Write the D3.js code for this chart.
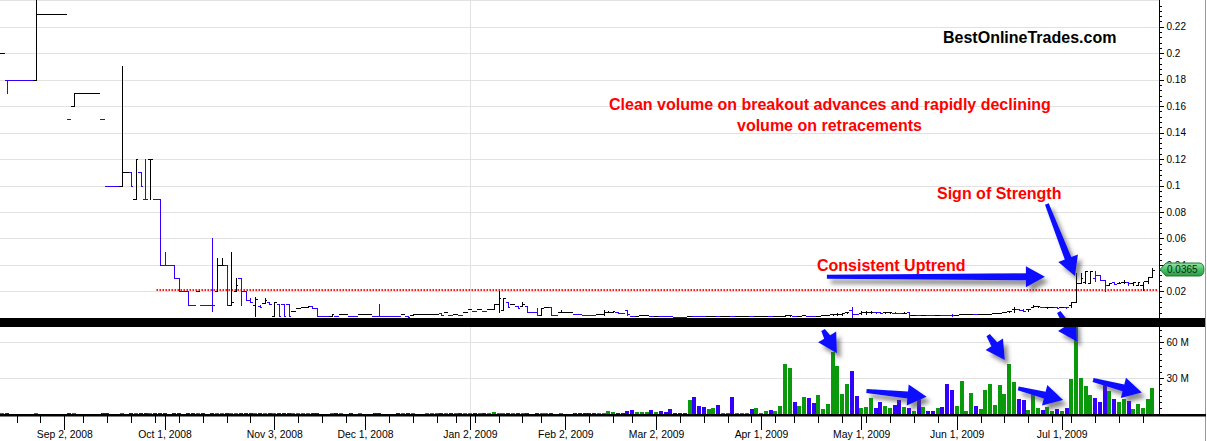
<!DOCTYPE html>
<html><head><meta charset="utf-8">
<script src="https://cdn.jsdelivr.net/npm/d3@7"></script>
<style>html,body{margin:0;padding:0;background:#fff;overflow:hidden}svg{display:block}</style>
</head><body><svg id="c" width="1207" height="441"></svg>
<script>
// ---------------- DATA ----------------
const firstDay = "2008-08-13", lastDay = "2009-07-29";
const holidays = ["2008-09-01","2008-11-27","2008-12-25","2009-01-01","2009-01-19","2009-02-16","2009-04-10","2009-05-25","2009-07-03"];

const opens = [
.20,.18,.18,.18,.18,.18,.18,.18,.23,.23,
.23,.23,.23,.23,.15,.16,.17,.17,.17,.17,
.17,.15,.10,.10,.10,.10,.11,.11,.09,.11,
.09,.12,.09,.09,.04,.04,.04,.03,.02,.02,
.01,.02,.01,.01,.01,.02,.04,.04,.01,.02,
.03,.02,.0135,.01,.009,.011,.012,.0015,.0104,.0104,
.0104,.005,.0072,.008,.0085,.009,.0075,.0015,.0015,.0015,
.0015,.003,.003,.0015,.0015,.003,.003,.003,.0015,.0015,
.0015,.0015,.0015,.0015,.0026,.0015,.002,.003,.003,.003,
.003,.003,.004,.0042,.002,.003,.002,.0045,.0064,.0054,
.0064,.0049,.0064,.0064,.0104,.006,.0117,.0104,.009,.009,
.009,.0042,.0042,.002,.008,.008,.002,.0042,.0042,.0042,
.0031,.0031,.002,.002,.002,.0031,.0031,.0042,.0045,.0042,
.0038,.0059,.0014,.0016,.0018,.002,.0014,.0016,.0014,.0012,
.001,.0009,.0008,.0007,.0016,.0012,.0011,.001,.0012,.0014,
.001,.0012,.0013,.001,.0011,.0012,.0013,.001,.0012,.0013,
.0014,.0012,.0014,.0016,.0016,.0018,.0014,.0016,.0018,.0014,
.0012,.0016,.0018,.002,.003,.003,.0032,.0042,.0059,.003,
.0035,.0042,.0045,.0044,.0042,.0042,.0042,.004,.0036,.004,
.0042,.0022,.002,.0022,.002,.0019,.0024,.0022,.002,.0018,
.0022,.0025,.0026,.0028,.0026,.0028,.003,.0032,.0033,.0034,
.0046,.0048,.0064,.0064,.006,.0064,.0085,.0088,.008,.0079,
.008,.0078,.008,.008,.0097,.012,.026,.027,.026,.030,
.0324,.0286,.025,.027,.026,.027,.027,.026,.0248,.025,
.0275,.0306];

const highs = [
.20,.18,.18,.18,.18,.18,.18,.25,.23,.23,
.23,.23,.23,.23,.15,.17,.17,.17,.17,.17,
.17,.15,.10,.10,.10,.19,.11,.11,.12,.11,
.12,.12,.09,.09,.05,.04,.04,.03,.02,.02,
.01,.02,.01,.01,.06,.045,.045,.04,.05,.03,
.03,.02,.015,.016,.0095,.0147,.012,.012,.0104,.0104,
.0104,.005,.0072,.008,.009,.009,.0075,.0015,.0015,.003,
.0015,.003,.003,.0015,.0015,.003,.003,.003,.0015,.0104,
.0015,.0015,.0015,.0015,.0026,.0015,.003,.003,.003,.003,
.003,.003,.004,.0042,.002,.003,.002,.0045,.0064,.0054,
.0064,.0049,.0064,.0104,.0205,.0147,.0117,.0104,.009,.0117,
.009,.0042,.0072,.0072,.008,.008,.002,.0059,.0042,.0042,
.0031,.0031,.002,.002,.002,.0031,.0059,.0048,.005,.0042,
.0038,.0059,.0014,.0016,.0018,.002,.0014,.0016,.0014,.0012,
.001,.0009,.0008,.0007,.0016,.0012,.0011,.001,.0012,.0014,
.001,.0012,.0013,.001,.0011,.0012,.0013,.001,.0012,.0013,
.0014,.0012,.0014,.0016,.002,.0022,.0014,.0016,.0018,.0014,
.0012,.0016,.0018,.002,.003,.004,.004,.0042,.008,.003,
.0048,.005,.005,.0046,.0042,.0045,.0045,.0044,.0038,.0042,
.0042,.0022,.002,.0022,.002,.0019,.0024,.0022,.002,.003,
.0022,.0025,.0026,.0028,.0026,.0028,.003,.0032,.0033,.0034,
.0046,.0055,.0084,.0064,.0064,.007,.0097,.0092,.008,.0082,
.0082,.008,.008,.008,.0122,.0336,.0336,.0356,.0356,.0356,
.0324,.0286,.026,.027,.027,.0286,.027,.027,.027,.027,
.0306,.0374];

const lows = [
.20,.17,.18,.18,.18,.18,.18,.18,.23,.23,
.23,.23,.23,.23,.15,.16,.17,.17,.17,.17,
.17,.15,.10,.10,.10,.10,.11,.10,.09,.10,
.09,.09,.09,.04,.04,.04,.03,.02,.02,.01,
.01,.02,.01,.01,.005,.02,.04,.01,.01,.02,
.01,.0135,.012,.0015,.008,.011,.0104,.0015,.0015,.0015,
.0015,.005,.0072,.008,.0085,.0075,.0015,.0015,.0015,.0015,
.0015,.003,.003,.0015,.0015,.003,.003,.003,.0015,.0015,
.0015,.0015,.0015,.0015,.0026,.0005,.002,.003,.003,.003,
.003,.003,.002,.0042,.002,.003,.002,.0045,.0064,.0054,
.0064,.0049,.0064,.0064,.0046,.006,.0085,.0104,.0075,.009,
.0042,.0042,.002,.002,.008,.002,.002,.0042,.0042,.0042,
.0031,.0031,.002,.002,.002,.0031,.002,.0042,.0042,.0035,
.0038,.002,.0014,.0016,.0018,.002,.0014,.0016,.0014,.0012,
.001,.0009,.0008,.0007,.0016,.0012,.0011,.001,.0012,.0014,
.001,.0012,.0013,.001,.0011,.0012,.0013,.001,.0012,.0013,
.0014,.0012,.0014,.0016,.0012,.0015,.0014,.0016,.0018,.0014,
.0012,.0016,.0018,.002,.002,.002,.002,.0034,.0005,.0025,
.0025,.003,.0035,.004,.0038,.0038,.004,.0036,.0034,.0035,
.0002,.0022,.002,.0022,.002,.0019,.0024,.0022,.002,.0015,
.0022,.0025,.0026,.0028,.0026,.0028,.003,.0032,.0033,.0034,
.0046,.0046,.0046,.0058,.005,.0055,.0085,.0084,.0078,.0076,
.0078,.0075,.008,.0076,.0085,.012,.026,.026,.026,.028,
.0286,.0205,.025,.0255,.026,.026,.025,.025,.0248,.021,
.026,.0306];

const closes = [
.20,.18,.18,.18,.18,.18,.18,.23,.23,.23,
.23,.23,.23,.23,.15,.17,.17,.17,.17,.17,
.17,.15,.10,.10,.10,.11,.11,.10,.12,.10,
.09,.12,.09,.04,.04,.04,.03,.02,.02,.01,
.01,.02,.01,.01,.01,.04,.04,.01,.012,.025,
.02,.0135,.012,.0145,.008,.0135,.0104,.012,.0015,.0015,
.0015,.005,.0072,.008,.009,.0075,.0015,.0015,.0015,.003,
.0015,.003,.003,.0015,.0015,.003,.003,.003,.0015,.0015,
.0015,.0015,.0015,.0015,.0026,.0005,.003,.003,.003,.003,
.003,.003,.002,.0042,.002,.003,.002,.0045,.0064,.0054,
.0064,.0049,.0064,.0104,.0147,.0147,.0085,.0104,.0075,.0104,
.0042,.0042,.002,.0072,.008,.002,.002,.0042,.0042,.0042,
.0031,.0031,.002,.002,.002,.0031,.0042,.0045,.0048,.0038,
.0038,.0031,.0014,.0016,.0018,.002,.0014,.0016,.0014,.0012,
.001,.0009,.0008,.0007,.0016,.0012,.0011,.001,.0012,.0014,
.001,.0012,.0013,.001,.0011,.0012,.0013,.001,.0012,.0013,
.0014,.0012,.0014,.0016,.0018,.002,.0014,.0016,.0018,.0014,
.0012,.0016,.0018,.002,.003,.0032,.0034,.0042,.003,.0028,
.0042,.0045,.0046,.0042,.004,.0042,.0044,.0038,.0035,.004,
.002,.0022,.002,.0022,.002,.0019,.0024,.0022,.002,.0018,
.0022,.0025,.0026,.0028,.0026,.0028,.003,.0032,.0033,.0034,
.0046,.005,.0064,.006,.0055,.0064,.009,.0092,.0079,.008,
.0081,.0076,.008,.0078,.012,.026,.030,.0356,.0356,.0324,
.0286,.025,.026,.0255,.026,.027,.026,.027,.027,.0275,
.0306,.0365];

// volume, millions of shares
const volumes = [
0.8,0.8,0,0,0,0,0,0.8,0,0,
0,0,0,0,0.8,0.8,0,0,0,0,
0,0.8,0.8,0,0,0.8,0,0.8,0.8,0.8,
0.8,0.8,0.8,0.8,0.8,0,0.8,0.8,0,0.8,
0.8,0.8,0.8,0,0.8,0.8,0.8,0.8,0.8,0.8,
0.8,0.8,0.8,0.8,0.8,0.8,0.8,0.8,0.8,0.8,
0.8,0.8,0.8,0.8,0.8,0.8,0.8,0,0,0.8,
0.8,0.8,0,0.8,0,0.8,0,0,0.8,0.8,
0,0,0,0.8,0.8,0.8,0.8,0,0,0.8,
0.8,0.8,0.8,0.8,0.8,0.8,0.8,0.8,0.8,0.8,
0.8,0.8,0.8,1.5,0.8,0.8,0.8,0.8,0.8,0.8,
0.8,0,0.8,0.8,0.8,0.8,0,0.8,0,0,
0.8,0.8,0.8,0.8,0.8,0.8,0.8,2.5,1.8,0.8,
0.8,2.8,3.3,1.5,1.7,2,3.3,1.7,2.5,1.5,
4,0.8,0.8,0.8,11.7,14,6.7,5.8,4,5,
7.5,0.8,0.8,14,0.8,0.8,0.8,4,5,0.8,
2.5,3.3,2.5,6.7,41.7,38.6,10,6.7,14,13.3,
9.2,15.6,4.2,8.3,51.4,40,16.7,25,35.8,15,
5,5.6,13.3,5,10,6.7,5,7.5,11.7,5.8,
5,2.5,12.5,5.8,2.5,2.5,5,5.8,25,20,
6.7,27.5,2.5,17.5,6.7,4.2,20,25,7.5,24,
16.7,41.7,26.7,12.5,11.7,3.3,16.7,5,3.3,5.8,
2.5,4.2,2.5,5,29,75,30,23,15.8,13.3,
10,24,19,12.5,10,12.5,11,4.2,8.3,5,
12.5,21.7];

const priceTickLabels = ["0.02","0.04","0.06","0.08","0.1","0.12","0.14","0.16","0.18","0.2","0.22"];
const volumeTickValues = [30, 60];
const volumeTickLabels = ["30 M", "60 M"];
const monthTickLabels = ["Sep 2, 2008","Oct 1, 2008","Nov 3, 2008","Dec 1, 2008","Jan 2, 2009","Feb 2, 2009","Mar 2, 2009","Apr 1, 2009","May 1, 2009","Jun 1, 2009","Jul 1, 2009"];
const yearGridLabels = ["Jan 2, 2009"];
const supportLevel = 0.021, supportStart = "2008-09-29";

// annotations in data coordinates: [fromDayIndex, fromValue, toDayIndex, toValue]
const priceArrows = [[172.8, 0.0310, 218.5, 0.0310], [218.9, 0.0860, 224.8, 0.0316]];
const volumeArrows = [[172.0, 70, 174.9, 50.6], [206.6, 65.8, 210.1, 45], [221.4, 85, 225.2, 60.3],
                      [181.1, 19.2, 193.7, 14.4], [212.9, 21.4, 222.3, 11.7], [228.6, 28.3, 238.8, 17.8]];
const notes = [
  {text: "BestOnlineTrades.com", x: 943, y: 43, color: "#000"},
  {text: "Clean volume on breakout advances and rapidly declining", x: 609, y: 110, color: "#ff0000"},
  {text: "volume on retracements", x: 737, y: 131, color: "#ff0000"},
  {text: "Sign of Strength", x: 937, y: 199, color: "#ff0000"},
  {text: "Consistent Uptrend", x: 817, y: 271, color: "#ff0000"}
];

// ---------------- CHART ----------------
const W = 1207, H = 441;
const FONT = "'Liberation Sans', Arial, Helvetica, sans-serif";
const BLUE = "#3300ff", GREEN = "#0a990a", ARROW = "#0c0cff";
const svg = d3.select("#c");

const parseISO = d3.utcParse("%Y-%m-%d"), fmtISO = d3.utcFormat("%Y-%m-%d");
const holiSet = new Set(holidays);
const dates = d3.utcDays(parseISO(firstDay), d3.utcDay.offset(parseISO(lastDay), 1))
  .filter(d => d.getUTCDay() % 6 !== 0 && !holiSet.has(fmtISO(d)));
const n = Math.min(dates.length, closes.length);
const idxOf = s => dates.findIndex(d => +d === +s);

const axisX = 1159.5;
const priceBottom = 317.8, volBottom = 414;
const x = d3.scaleLinear().domain([0, n - 1]).range([2.26, 1152.3]);
const step = x(1) - x(0);
const yP = d3.scaleLinear().domain([0, 0.24]).range([priceBottom, 0.28]);
const yV = d3.scaleLinear().domain([0, 60]).range([volBottom, 342]);

// direction: up if close > previous close, down if lower, unchanged keeps previous
const up = [];
for (let i = 0; i < n; i++) {
  if (i === 0) up.push(true);
  else up.push(closes[i] > closes[i-1] ? true : closes[i] < closes[i-1] ? false : up[i-1]);
}

const defs = svg.append("defs");
defs.append("clipPath").attr("id", "clipP").append("rect").attr("x", 0).attr("y", 0).attr("width", axisX - 0.5).attr("height", 318);
defs.append("clipPath").attr("id", "clipV").append("rect").attr("x", 0).attr("y", 327).attr("width", axisX - 0.5).attr("height", volBottom - 327);
const f = defs.append("filter").attr("id", "shadow").attr("x", "-30%").attr("y", "-30%").attr("width", "160%").attr("height", "160%");
f.append("feDropShadow").attr("dx", 4).attr("dy", 5).attr("stdDeviation", 2.2).attr("flood-color", "#444").attr("flood-opacity", 0.6);
const lg = defs.append("linearGradient").attr("id", "badge").attr("x1", 0).attr("y1", 0).attr("x2", 0).attr("y2", 1);
lg.append("stop").attr("offset", 0).attr("stop-color", "#9be3a8");
lg.append("stop").attr("offset", 0.5).attr("stop-color", "#4cc267");
lg.append("stop").attr("offset", 1).attr("stop-color", "#2a9a45");

svg.append("rect").attr("width", W).attr("height", H).attr("fill", "#fff");

// grid lines
const gridP = priceTickLabels.map(Number).concat([0.24]);
svg.append("g").selectAll("line").data(gridP).join("line")
  .attr("x1", 0).attr("x2", axisX).attr("y1", d => Math.round(yP(d)) + 0.5).attr("y2", d => Math.round(yP(d)) + 0.5)
  .attr("stroke", "#e2e2e2");
svg.append("g").selectAll("line").data(volumeTickValues).join("line")
  .attr("x1", 0).attr("x2", axisX).attr("y1", d => Math.round(yV(d)) + 0.5).attr("y2", d => Math.round(yV(d)) + 0.5)
  .attr("stroke", "#e2e2e2");
const parseLabel = d3.utcParse("%b %d, %Y");
const yearIdx = yearGridLabels.map(s => idxOf(parseLabel(s)));
svg.append("g").selectAll("path").data(yearIdx).join("path")
  .attr("d", i => { const X = Math.round(x(i)) + 0.5; return `M${X},0V318M${X},327V${volBottom}`; })
  .attr("stroke", "#e2e2e2");

// support line
const sIdx = idxOf(parseISO(supportStart));
svg.append("line").attr("x1", x(sIdx) + 1.5).attr("x2", x(n - 1) + 5)
  .attr("y1", yP(supportLevel)).attr("y2", yP(supportLevel))
  .attr("stroke", "#ff1a1a").attr("stroke-width", 2).attr("stroke-dasharray", "1.6,1.4");

// price bars
const hw = step / 2;
svg.append("g").attr("clip-path", "url(#clipP)").selectAll("path").data(d3.range(n)).join("path")
  .attr("d", i => {
    const cx = x(i), X = Math.round(cx) + 0.5;
    const L = Math.round(cx - hw), R = Math.round(cx + hw);
    const r = v => Math.round(yP(v)) + 0.5;
    return `M${X},${r(highs[i]) - 0.5}V${r(lows[i]) + 0.5}M${L},${r(opens[i])}H${X}M${X},${r(closes[i])}H${R}`;
  })
  .attr("fill", "none").attr("stroke", i => up[i] ? "#000" : BLUE).attr("stroke-width", 1)
  .attr("shape-rendering", "crispEdges");

// volume bars
svg.append("g").attr("clip-path", "url(#clipV)").selectAll("rect").data(d3.range(n).filter(i => volumes[i] > 0)).join("rect")
  .attr("x", i => Math.round(x(i) - 1.9)).attr("width", 4)
  .attr("y", i => yV(volumes[i])).attr("height", i => volBottom - yV(volumes[i]))
  .attr("fill", i => up[i] ? GREEN : BLUE).attr("shape-rendering", "crispEdges");

// arrows
function arrowPath(x1, y1, x2, y2) {
  const dx = x2 - x1, dy = y2 - y1, len = Math.hypot(dx, dy);
  const ux = dx / len, uy = dy / len, nx = -uy, ny = ux;
  const HL = 19, HW = 21, w0 = 4, w1 = 7;
  const bx = x2 - ux * HL, by = y2 - uy * HL;
  const p = [
    [x1 + nx * w0 / 2, y1 + ny * w0 / 2], [bx + nx * w1 / 2, by + ny * w1 / 2], [bx + nx * HW / 2, by + ny * HW / 2],
    [x2, y2], [bx - nx * HW / 2, by - ny * HW / 2], [bx - nx * w1 / 2, by - ny * w1 / 2], [x1 - nx * w0 / 2, y1 - ny * w0 / 2]
  ];
  return "M" + p.map(q => q[0].toFixed(1) + "," + q[1].toFixed(1)).join("L") + "Z";
}
const ga = svg.append("g").attr("filter", "url(#shadow)");
ga.selectAll("path.pa").data(priceArrows).join("path").attr("class", "pa")
  .attr("d", a => arrowPath(x(a[0]), yP(a[1]), x(a[2]), yP(a[3]))).attr("fill", ARROW);
ga.selectAll("path.va").data(volumeArrows).join("path").attr("class", "va")
  .attr("d", a => arrowPath(x(a[0]), yV(a[1]), x(a[2]), yV(a[3]))).attr("fill", ARROW);

// separator band
svg.append("rect").attr("x", 0).attr("y", 318).attr("width", 1206).attr("height", 9).attr("fill", "#000");

// right price axis
const pAxis = d3.axisRight(yP).tickValues(priceTickLabels.map(Number)).tickFormat((d, i) => priceTickLabels[i]).tickSize(4).tickPadding(3);
const minorP = d3.range(0.004, 0.24, 0.004);
const gpm = svg.append("g").attr("transform", `translate(${axisX},0)`)
  .call(d3.axisRight(yP).tickValues(minorP).tickFormat("").tickSize(2.5));
const gp = svg.append("g").attr("transform", `translate(${axisX},0)`).call(pAxis);
[gp, gpm].forEach(g => { g.select(".domain").remove(); g.selectAll("line").attr("stroke", "#000").attr("shape-rendering", "crispEdges"); });
gp.selectAll("text").attr("font-family", FONT).attr("font-size", 10).attr("fill", "#000");

// right volume axis
const vAxis = d3.axisRight(yV).tickValues(volumeTickValues).tickFormat((d, i) => volumeTickLabels[i]).tickSize(4).tickPadding(3);
const gvm = svg.append("g").attr("transform", `translate(${axisX},0)`)
  .call(d3.axisRight(yV).tickValues(d3.range(5, 71, 5)).tickFormat("").tickSize(2.5));
const gv = svg.append("g").attr("transform", `translate(${axisX},0)`).call(vAxis);
[gv, gvm].forEach(g => { g.select(".domain").remove(); g.selectAll("line").attr("stroke", "#000").attr("shape-rendering", "crispEdges"); });
gvm.selectAll(".tick").filter(d => yV(d) < 328).remove();
gv.selectAll("text").attr("font-family", FONT).attr("font-size", 10).attr("fill", "#000");

svg.append("line").attr("x1", axisX).attr("x2", axisX).attr("y1", 0).attr("y2", 416).attr("stroke", "#000");
svg.append("line").attr("x1", 1205.5).attr("x2", 1205.5).attr("y1", 0).attr("y2", H).attr("stroke", "#9a9a9a");

// bottom time axis
const monthIdx = monthTickLabels.map(s => idxOf(parseLabel(s)));
const weekIdx = d3.range(1, n).filter(i => dates[i].getUTCDay() < dates[i-1].getUTCDay() && !monthIdx.includes(i));
const gxm = svg.append("g").attr("transform", "translate(0,416)")
  .call(d3.axisBottom(x).tickValues(weekIdx).tickFormat("").tickSize(7));
const gx = svg.append("g").attr("transform", "translate(0,416)")
  .call(d3.axisBottom(x).tickValues(monthIdx).tickFormat((d, i) => monthTickLabels[i]).tickSize(14).tickPadding(0));
[gx, gxm].forEach(g => { g.select(".domain").remove(); g.selectAll("line").attr("stroke", "#000").attr("shape-rendering", "crispEdges"); });
gx.selectAll("text").attr("font-family", FONT).attr("font-size", 10.4).attr("fill", "#000").attr("y", 14.5).attr("dy", "0.71em");
svg.append("rect").attr("x", 0).attr("y", 414).attr("width", 1206).attr("height", 2.5).attr("fill", "#000");

// last price badge (drawn over the axis, as in the original, partly covering the 0.04 label)
const last = closes[n - 1], yl = yP(last);
svg.append("path")
  .attr("d", `M${axisX + 0.5},${yl}L${axisX + 6.5},${yl - 6.5}H${1199}Q${1204},${yl - 6.5} ${1204},${yl}Q${1204},${yl + 6.5} ${1199},${yl + 6.5}H${axisX + 6.5}Z`)
  .attr("fill", "url(#badge)").attr("stroke", "#1f7a35").attr("stroke-width", 1);
svg.append("text").attr("x", axisX + 7.5).attr("y", yl + 3.6).attr("font-family", FONT).attr("font-size", 10)
  .attr("fill", "#0d2a12").text(d3.format(".4f")(last));

// annotation texts
svg.append("g").selectAll("text").data(notes).join("text")
  .attr("x", d => d.x).attr("y", d => d.y).attr("fill", d => d.color)
  .attr("font-family", FONT).attr("font-size", 16).attr("font-weight", "bold").text(d => d.text);
</script>
</body></html>
